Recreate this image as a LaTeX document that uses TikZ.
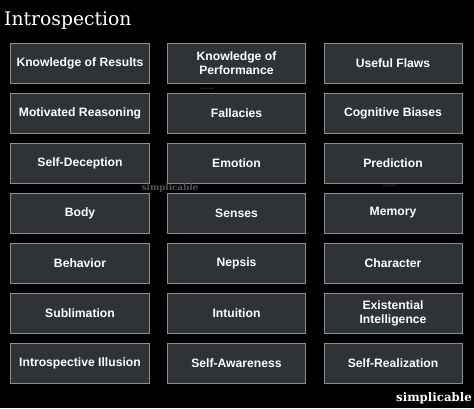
\documentclass[tikz,border=0pt]{standalone}
\usepackage{fontspec}
\setmainfont{Liberation Sans}
\newfontfamily\titlefont{DejaVu Serif}
\newfontfamily\markfont{DejaVu Serif}
\definecolor{boxfill}{RGB}{47,51,55}
\definecolor{boxline}{RGB}{138,142,145}
\definecolor{markgray}{RGB}{85,88,90}
\begin{document}
\begin{tikzpicture}[x=1bp, y=-1bp,
    item/.style={draw=boxline, fill=boxfill, line width=1bp, minimum width=138bp,
        minimum height=40bp, inner sep=1bp, align=center, text=white,
        font=\fontsize{12.2}{14}\selectfont\bfseries}]
        \fill[black] (0,0) rectangle (474,408);
        \useasboundingbox (0,0) rectangle (474,408);
        \node[name=title, anchor=base west, text=white, inner sep=0pt,
            font=\titlefont\fontsize{18.8}{22}\selectfont] at (4,25) {Introspection};
        % row 1
        \node[name=results, item] at (80,63) {Knowledge of Results};
        \node[name=performance, item] at (236.5,63) {Knowledge of\\Performance};
        \node[name=flaws, item] at (393,63) {Useful Flaws};
        % row 2
        \node[name=motivated, item] at (80,113) {Motivated Reasoning};
        \node[name=fallacies, item] at (236.5,113) {Fallacies};
        \node[name=biases, item] at (393,113) {Cognitive Biases};
        % row 3
        \node[name=deception, item] at (80,163) {Self-Deception};
        \node[name=emotion, item] at (236.5,163) {Emotion};
        \node[name=prediction, item] at (393,163) {Prediction};
        % row 4
        \node[name=body, item] at (80,213) {Body};
        \node[name=senses, item] at (236.5,213) {Senses};
        \node[name=memory, item] at (393,213) {Memory};
        % row 5
        \node[name=behavior, item] at (80,263) {Behavior};
        \node[name=nepsis, item] at (236.5,263) {Nepsis};
        \node[name=character, item] at (393,263) {Character};
        % row 6
        \node[name=sublimation, item] at (80,313) {Sublimation};
        \node[name=intuition, item] at (236.5,313) {Intuition};
        \node[name=existential, item] at (393,313) {Existential\\Intelligence};
        % row 7
        \node[name=illusion, item] at (80,363) {Introspective Illusion};
        \node[name=awareness, item] at (236.5,363) {Self-Awareness};
        \node[name=realization, item] at (393,363) {Self-Realization};
        % watermarks
        \node[name=markmid, text=markgray, inner sep=0pt,
            font=\markfont\fontsize{8.8}{9}\selectfont\bfseries] at (170,188) {simplicable};
        \node[name=marksmalla, text=markgray, inner sep=0pt,
            font=\markfont\fontsize{2.5}{3}\selectfont] at (207,89) {simplicable};
        \node[name=marksmallb, text=markgray, inner sep=0pt,
            font=\markfont\fontsize{2.5}{3}\selectfont] at (390,186) {simplicable};
        \node[name=mark, anchor=base east, text=white, inner sep=0pt,
            font=\markfont\fontsize{11.8}{12}\selectfont\bfseries] at (472,401) {simplicable};
    \end{tikzpicture}
\end{document}
